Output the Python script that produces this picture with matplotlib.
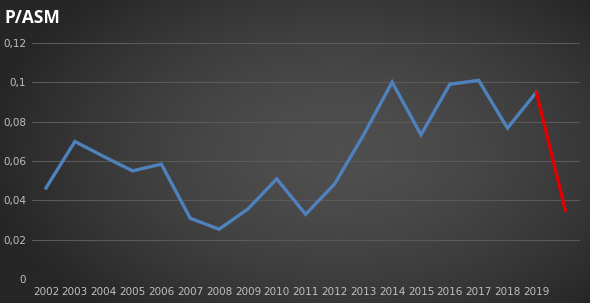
import matplotlib
matplotlib.use("Agg")
from matplotlib import pyplot as plt
import numpy as np

years = [str(y) for y in range(2002, 2020)]
p_asm = [0.0463, 0.0699, 0.0623, 0.0550, 0.0584, 0.0309, 0.0253, 0.0356, 0.0509,
         0.0329, 0.0482, 0.0730, 0.1001, 0.0733, 0.0990, 0.1010, 0.0767, 0.0950]
drop_2020 = 0.0351
y_ticks = [0, 0.02, 0.04, 0.06, 0.08, 0.1, 0.12]
y_tick_labels = ["0", "0,02", "0,04", "0,06", "0,08", "0,1", "0,12"]

fig = plt.figure(figsize=(5.90, 3.03), dpi=100)

# radial-ish dark background
bg = fig.add_axes([0, 0, 1, 1], zorder=-1)
gx, gy = np.meshgrid(np.linspace(-1, 1, 300), np.linspace(-1, 1, 160))
r = np.sqrt(((gx - 0.15) / 1.1) ** 2 + (gy / 1.3) ** 2)
shade = np.clip(0.31 - 0.14 * r ** 1.6, 0.15, 0.31)
bg.imshow(np.dstack([shade] * 3), aspect="auto", extent=[0, 1, 0, 1])
bg.axis("off")

ax = fig.add_axes([31.6 / 590, 24 / 303, 548 / 590, 236 / 303])
ax.set_facecolor("none")

x = np.arange(len(years))
ax.plot(x, p_asm, color="#4f81bd", lw=2.4, solid_joinstyle="miter", zorder=3)
ax.plot([x[-1], x[-1] + 1], [p_asm[-1], drop_2020], color="#e00000", lw=2.4, zorder=3)

ax.set_xlim(-0.5, len(years) + 0.5)
ax.set_ylim(0, 0.12)
ax.set_yticks(y_ticks)
ax.set_yticklabels(y_tick_labels)
ax.set_xticks(x)
ax.set_xticklabels(years)
ax.grid(axis="y", color="#5a5a5a", lw=0.8)
ax.set_axisbelow(True)
ax.tick_params(length=0, colors="#bfbfbf", labelsize=7.5)
ax.tick_params(axis="y", pad=4)
ax.tick_params(axis="x", pad=6)
for s in ax.spines.values():
    s.set_visible(False)

fig.text(5 / 590, 1 - 18 / 303, "P/ASM", color="white", fontsize=12.5,
         fontweight="bold", family="Open Sans", va="center")

fig.savefig("out.png", dpi=100)
